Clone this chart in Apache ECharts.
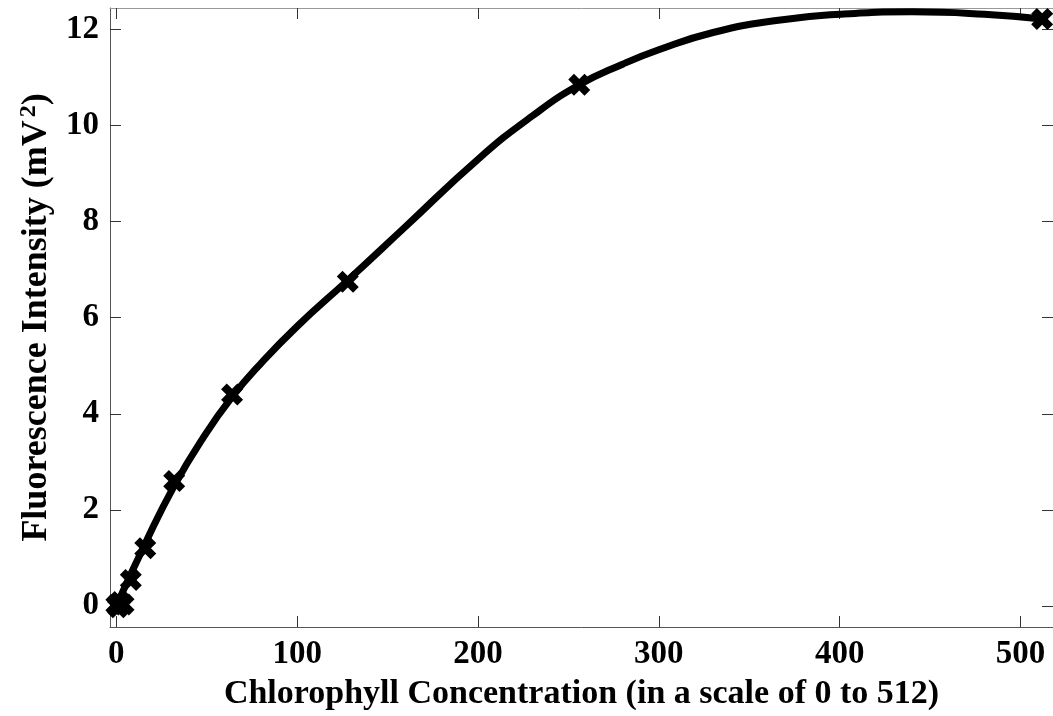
<!DOCTYPE html>
<html>
<head>
<meta charset="utf-8">
<script src="https://cdn.jsdelivr.net/npm/echarts@6/dist/echarts.min.js"></script>
<style>
  html, body { margin: 0; padding: 0; background: #fff; }
  #main { width: 1053px; height: 716px; }
</style>
</head>
<body>
<div id="main"></div>
<script>
// measured points (dilution series)
var conc = [0, 1, 2, 4, 8, 16, 32, 64, 128, 256, 512];
var intensity = [0.02, -0.03, 0.08, 0.03, 0.54, 1.2, 2.6, 4.4, 6.75, 10.85, 12.22];

// fitted curve
var fitX = [0, 16, 32, 48, 64, 80, 100, 128, 160, 200, 230, 256, 280, 300, 330, 365, 400, 440, 480, 512];
var fitY = [0, 1.3, 2.5, 3.5, 4.35, 5.05, 5.82, 6.78, 7.9, 9.3, 10.2, 10.85, 11.28, 11.58, 11.94, 12.19, 12.32, 12.37, 12.32, 12.22];

var xTicks = [0, 100, 200, 300, 400, 500];
var yTicks = [0, 2, 4, 6, 8, 10, 12];

var font = 'Liberation Serif';
var xMarker = 'path://M0,2.6L2.6,0L5,2.4L7.4,0L10,2.6L7.6,5L10,7.4L7.4,10L5,7.6L2.6,10L0,7.4L2.4,5Z';

function pairs(xs, ys) {
    var out = [];
    for (var i = 0; i < xs.length; i++) out.push([xs[i], ys[i]]);
    return out;
}

function tick(values) {
    return { show: true, inside: true, length: 11, customValues: values, lineStyle: { color: '#333' } };
}

var chart = echarts.init(document.getElementById('main'));
chart.setOption({
    animation: false,
    backgroundColor: '#fff',
    grid: { left: 110, right: -5, top: 8, bottom: 87 },
    xAxis: [{
        type: 'value', min: -3.5, max: 518,
        name: 'Chlorophyll Concentration (in a scale of 0 to 512)',
        nameLocation: 'middle', nameGap: 50,
        nameTextStyle: { fontFamily: font, fontWeight: 'bold', fontSize: 34, color: '#000' },
        axisLine: { show: true, onZero: false, lineStyle: { color: '#555', width: 1 } },
        splitLine: { show: false },
        axisTick: tick(xTicks),
        axisLabel: { customValues: xTicks, margin: 11, fontFamily: font, fontWeight: 'bold', fontSize: 33, color: '#000' }
    }, {
        type: 'value', position: 'top', min: -3.5, max: 518,
        axisLine: { show: true, onZero: false, lineStyle: { color: '#999', width: 1 } },
        splitLine: { show: false },
        axisTick: tick(xTicks),
        axisLabel: { show: false }
    }],
    yAxis: [{
        type: 'value', min: -0.44, max: 12.45,
        name: 'Fluorescence Intensity (mV{sup|2})',
        nameLocation: 'middle', nameGap: 52, nameRotate: 90,
        nameTextStyle: {
            fontFamily: font, fontWeight: 'bold', fontSize: 36, color: '#000',
            rich: { sup: { fontFamily: font, fontWeight: 'bold', fontSize: 24, color: '#000', verticalAlign: 'bottom', padding: [0, 0, 16, 3] } }
        },
        axisLine: { show: true, onZero: false, lineStyle: { color: '#555', width: 1 } },
        splitLine: { show: false },
        axisTick: tick(yTicks),
        axisLabel: { customValues: yTicks, margin: 11, fontFamily: font, fontWeight: 'bold', fontSize: 33, color: '#000' }
    }, {
        type: 'value', position: 'right', min: -0.44, max: 12.45,
        axisLine: { show: true, onZero: false, lineStyle: { color: '#555', width: 1 } },
        splitLine: { show: false },
        axisTick: tick(yTicks),
        axisLabel: { show: false }
    }],
    series: [{
        type: 'line',
        data: pairs(fitX, fitY),
        smooth: 0.5,
        showSymbol: false,
        lineStyle: { color: '#000', width: 7 },
        z: 2
    }, {
        type: 'scatter',
        data: pairs(conc, intensity),
        symbol: xMarker,
        symbolSize: 22,
        itemStyle: { color: '#000', opacity: 1 },
        z: 3
    }]
});
</script>
</body>
</html>
